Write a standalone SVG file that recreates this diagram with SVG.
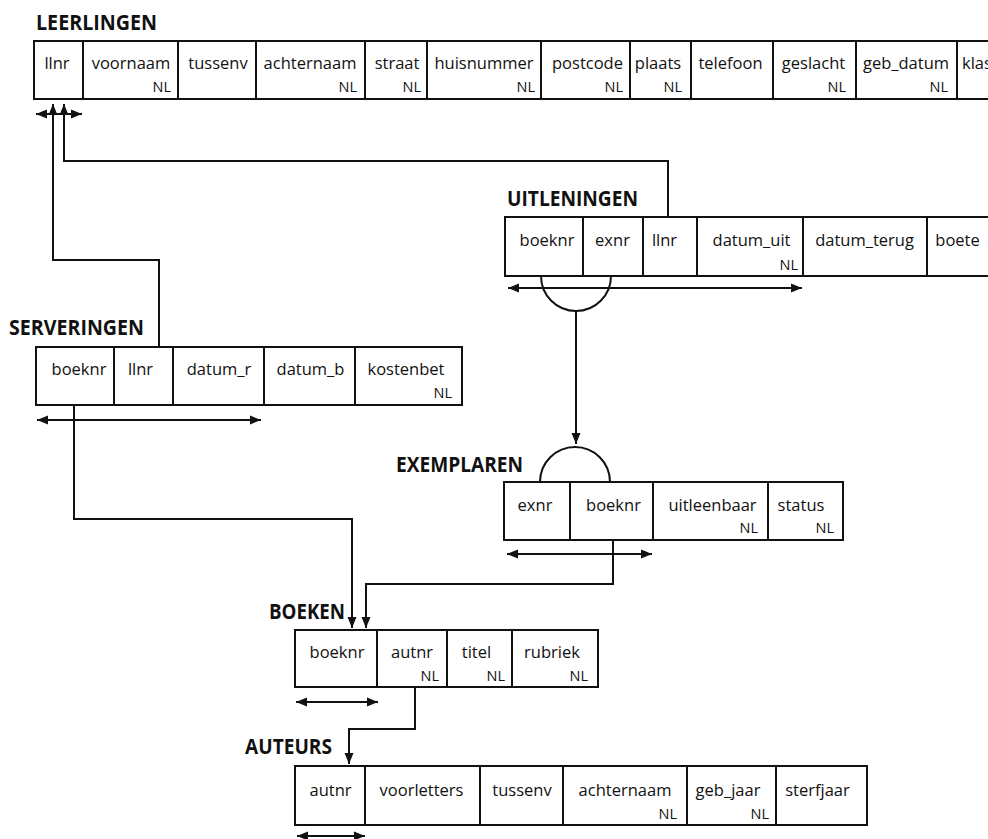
<svg xmlns="http://www.w3.org/2000/svg" width="988" height="839" viewBox="0 0 988 839">
<style>
  .bg{fill:#fff}
  .tbl{fill:#fff;stroke:#111;stroke-width:2}
  .div{stroke:#111;stroke-width:2}
  .title{font-family:"Open Sans","Liberation Sans",sans-serif;font-weight:bold;font-size:21px;fill:#111}
  .f{font-family:"Open Sans","Liberation Sans",sans-serif;font-size:16.5px;fill:#111;text-anchor:middle}
  .nl{font-family:"Open Sans","Liberation Sans",sans-serif;font-size:14.5px;fill:#111;text-anchor:end}
  .con{fill:none;stroke:#111;stroke-width:2}
  .arr{marker-end:url(#ah)}
  .dbl{marker-start:url(#ah);marker-end:url(#ah)}
</style>
<defs>
  <marker id="ah" markerUnits="userSpaceOnUse" markerWidth="12" markerHeight="10" refX="11" refY="5" orient="auto-start-reverse">
    <path d="M0,0.5 L11,5 L0,9.5 z" fill="#111"/>
  </marker>
</defs>
<rect class="bg" width="988" height="839"/>

<g id="leerlingen">
  <text class="title" x="36" y="30" textLength="121" lengthAdjust="spacingAndGlyphs">LEERLINGEN</text>
  <rect class="tbl" x="34" y="41" width="980" height="58"/>
  <path class="div" d="M83,41V99M178,41V99M256,41V99M365,41V99M427,41V99M541,41V99M630,41V99M691,41V99M773,41V99M856,41V99M957,41V99"/>
  <text class="f" x="57" y="69">llnr</text>
  <text class="f" x="131" y="69">voornaam</text>
  <text class="f" x="218" y="69">tussenv</text>
  <text class="f" x="310" y="69">achternaam</text>
  <text class="f" x="397" y="69">straat</text>
  <text class="f" x="484" y="69">huisnummer</text>
  <text class="f" x="587.5" y="69">postcode</text>
  <text class="f" x="658" y="69">plaats</text>
  <text class="f" x="730.5" y="69">telefoon</text>
  <text class="f" x="813.5" y="69">geslacht</text>
  <text class="f" x="906" y="69">geb_datum</text>
  <text class="f" x="962" y="69" style="text-anchor:start">klas</text>
  <text class="nl" x="171" y="92">NL</text>
  <text class="nl" x="357" y="92">NL</text>
  <text class="nl" x="421" y="92">NL</text>
  <text class="nl" x="535" y="92">NL</text>
  <text class="nl" x="623" y="92">NL</text>
  <text class="nl" x="682" y="92">NL</text>
  <text class="nl" x="846" y="92">NL</text>
  <text class="nl" x="948" y="92">NL</text>
</g>

<g id="uitleningen">
  <text class="title" x="507" y="206" textLength="131" lengthAdjust="spacingAndGlyphs">UITLENINGEN</text>
  <rect class="tbl" x="505" y="217" width="500" height="59"/>
  <path class="div" d="M583,217V276M643,217V276M697,217V276M803,217V276M927,217V276"/>
  <text class="f" x="547" y="246">boeknr</text>
  <text class="f" x="612.5" y="246">exnr</text>
  <text class="f" x="664.5" y="246">llnr</text>
  <text class="f" x="751.5" y="246">datum_uit</text>
  <text class="f" x="864.5" y="246">datum_terug</text>
  <text class="f" x="957.5" y="246">boete</text>
  <text class="nl" x="798" y="270">NL</text>
</g>

<g id="serveringen">
  <text class="title" x="9" y="335" textLength="135" lengthAdjust="spacingAndGlyphs">SERVERINGEN</text>
  <rect class="tbl" x="36" y="347" width="426" height="58"/>
  <path class="div" d="M114,347V405M173,347V405M264,347V405M355,347V405"/>
  <text class="f" x="79" y="375">boeknr</text>
  <text class="f" x="140.5" y="375">llnr</text>
  <text class="f" x="219" y="375">datum_r</text>
  <text class="f" x="310.5" y="375">datum_b</text>
  <text class="f" x="406" y="375">kostenbet</text>
  <text class="nl" x="452" y="398">NL</text>
</g>

<g id="exemplaren">
  <text class="title" x="396" y="472" textLength="127" lengthAdjust="spacingAndGlyphs">EXEMPLAREN</text>
  <rect class="tbl" x="504" y="482" width="339" height="58"/>
  <path class="div" d="M570,482V540M653,482V540M768,482V540"/>
  <text class="f" x="535" y="511">exnr</text>
  <text class="f" x="613.5" y="511">boeknr</text>
  <text class="f" x="712.5" y="511">uitleenbaar</text>
  <text class="f" x="801" y="511">status</text>
  <text class="nl" x="758" y="533">NL</text>
  <text class="nl" x="834" y="533">NL</text>
</g>

<g id="boeken">
  <text class="title" x="269" y="619" textLength="76" lengthAdjust="spacingAndGlyphs">BOEKEN</text>
  <rect class="tbl" x="295" y="630" width="303" height="57"/>
  <path class="div" d="M377,630V687M447,630V687M512,630V687"/>
  <text class="f" x="337" y="658">boeknr</text>
  <text class="f" x="412" y="658">autnr</text>
  <text class="f" x="476.5" y="658">titel</text>
  <text class="f" x="552" y="658">rubriek</text>
  <text class="nl" x="439" y="681">NL</text>
  <text class="nl" x="505" y="681">NL</text>
  <text class="nl" x="588" y="681">NL</text>
</g>

<g id="auteurs">
  <text class="title" x="245" y="754" textLength="87" lengthAdjust="spacingAndGlyphs">AUTEURS</text>
  <rect class="tbl" x="295" y="766" width="572" height="59"/>
  <path class="div" d="M365,766V825M480,766V825M563,766V825M687,766V825M776,766V825"/>
  <text class="f" x="330.5" y="796">autnr</text>
  <text class="f" x="421.5" y="796">voorletters</text>
  <text class="f" x="522" y="796">tussenv</text>
  <text class="f" x="625" y="796">achternaam</text>
  <text class="f" x="728" y="796">geb_jaar</text>
  <text class="f" x="817.5" y="796">sterfjaar</text>
  <text class="nl" x="677" y="819">NL</text>
  <text class="nl" x="769" y="819">NL</text>
</g>

<g id="connectors">
  <path class="con dbl" d="M36,114H82"/>
  <path class="con arr" d="M159,347V260H53V104"/>
  <path class="con arr" d="M668,217V161H64V104"/>
  <path class="con dbl" d="M508,288H802"/>
  <path class="con" d="M541,276A35,35 0 0 0 611,276"/>
  <path class="con arr" d="M576,311V444"/>
  <path class="con" d="M540,482A35,35 0 0 1 610,482"/>
  <path class="con dbl" d="M37,420H261"/>
  <path class="con dbl" d="M507,554H652"/>
  <path class="con arr" d="M613,540V584H366V628"/>
  <path class="con arr" d="M74,405V519H352V628"/>
  <path class="con dbl" d="M296,702H378"/>
  <path class="con arr" d="M415,687V729H349V764"/>
  <path class="con dbl" d="M297,836H365"/>
</g>
</svg>
